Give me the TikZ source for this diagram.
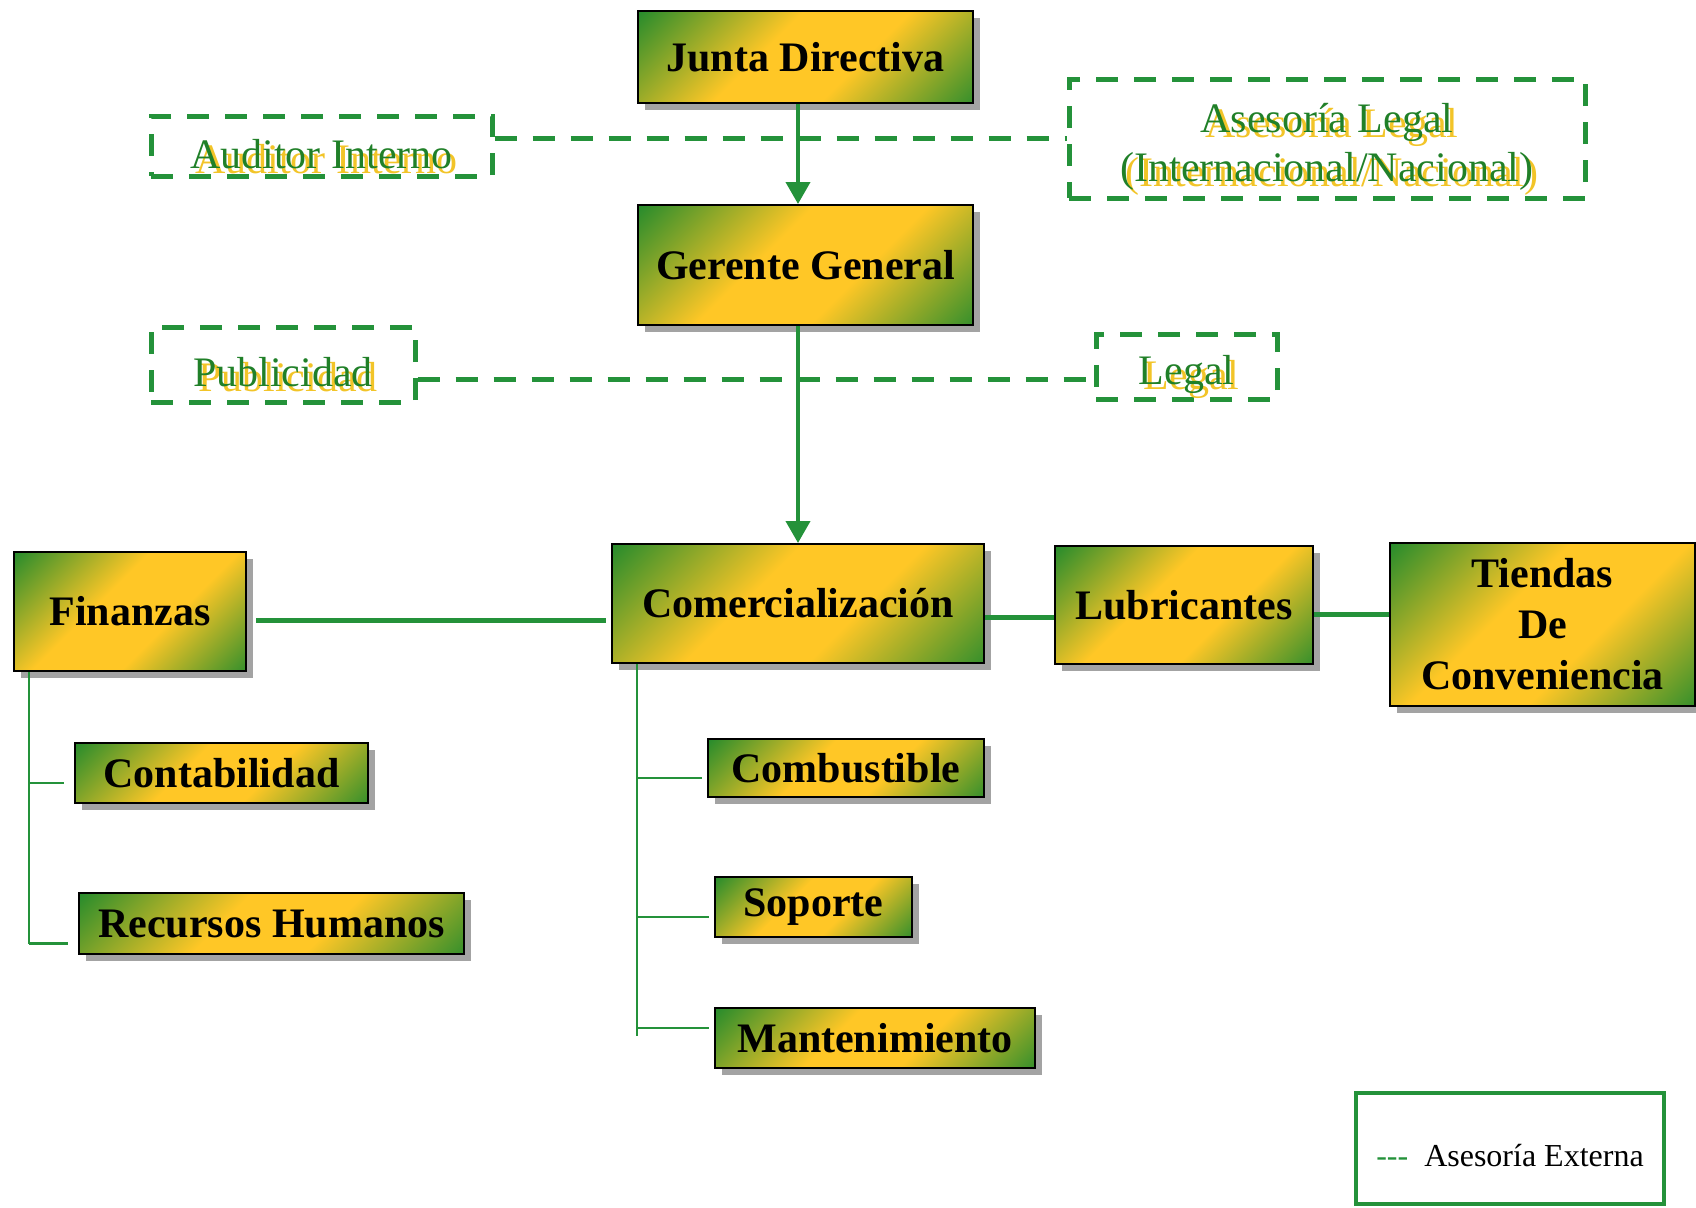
\documentclass[tikz,border=0pt]{standalone}
\usepackage{fontspec}
\setmainfont{Liberation Serif}
\usetikzlibrary{arrows.meta,shadows,calc}

\definecolor{bgreen}{RGB}{34,138,44}
\definecolor{bgold}{RGB}{255,199,38}
\definecolor{lgreen}{RGB}{36,146,58}
\definecolor{tgreen}{RGB}{32,128,40}
\definecolor{sgold}{RGB}{242,196,40}

\pgfdeclarehorizontalshading{boxgrad}{100bp}{color(0bp)=(bgreen); color(14bp)=(bgreen); color(42bp)=(bgold); color(60bp)=(bgold); color(88bp)=(bgreen); color(100bp)=(bgreen)}

\newcommand{\twotone}[1]{\leavevmode\rlap{\kern2.5pt\raisebox{-2.5pt}{\color{sgold}#1}}{\color{tgreen}#1}}
\newcommand{\lowstrut}{\rule{0pt}{25pt}}

\tikzset{
  unitbox/.style={draw=black, line width=1pt, shading=boxgrad, shading angle=-45,
    inner sep=0pt, align=center, font=\bfseries\fontsize{21}{25.5}\selectfont,
    drop shadow={shadow xshift=3.5pt, shadow yshift=-3.5pt, fill=black!45, opacity=.8}},
  advisor/.style={draw=lgreen, line width=2.5pt, dash pattern=on 11pt off 8pt,
    inner sep=0pt, align=center, font=\fontsize{21}{24.5}\selectfont},
  flow/.style={draw=lgreen, line width=2pt, -{Triangle[width=12pt,length=11pt]}},
  hlink/.style={draw=lgreen, line width=2.5pt},
  branch/.style={draw=lgreen, line width=1.2pt},
  dashlink/.style={draw=lgreen, line width=2.5pt, dash pattern=on 11pt off 8pt},
  legendbox/.style={draw=lgreen, line width=2pt, inner sep=0pt,
    font=\fontsize{16}{19}\selectfont}
}

\begin{document}
\begin{tikzpicture}[x=0.5pt, y=-0.5pt]
\useasboundingbox (0,0) rectangle (1696,1207);

% top of the chart
\node[unitbox, minimum width=167.5pt, minimum height=46pt] (junta) at (805.5,57) {Junta Directiva};
\node[unitbox, minimum width=167.5pt, minimum height=60pt] (gerente) at (805.5,265) {Gerente General};
\node[advisor, minimum width=170.5pt, minimum height=30pt] (auditor) at (321.5,146) {\lowstrut\twotone{Auditor Interno}};
\node[advisor, minimum width=258pt, minimum height=59.5pt] (asesoria) at (1327,138.5) {\lowstrut\twotone{Asesoría Legal}\\\twotone{(Internacional/Nacional)}};
\node[advisor, minimum width=132pt, minimum height=37.5pt] (publicidad) at (283,364.5) {\lowstrut\twotone{Publicidad}};
\node[advisor, minimum width=90.5pt, minimum height=30pt] (legal) at (1186.5,367) {\lowstrut\twotone{Legal}};

% main row
\node[unitbox, minimum width=186pt, minimum height=59.5pt] (comercial) at (798,603.5) {Comercialización};
\node[unitbox, minimum width=116pt, minimum height=59.5pt] (finanzas) at (130,611.5) {Finanzas};
\node[unitbox, minimum width=129pt, minimum height=59pt] (lubric) at (1184,605) {Lubricantes};
\node[unitbox, minimum width=152.5pt, minimum height=81.5pt] (tiendas) at (1542.5,624.5) {Tiendas\\De\\Conveniencia};

% sub units
\node[unitbox, minimum width=146.5pt, minimum height=30pt] (contab) at (221.5,773) {Contabilidad};
\node[unitbox, minimum width=192.5pt, minimum height=30.5pt] (recursos) at (271.5,923.5) {Recursos Humanos};
\node[unitbox, minimum width=138pt, minimum height=29pt] (combus) at (846,768) {Combustible};
\node[unitbox, minimum width=98.5pt, minimum height=30pt] (soporte) at (813.5,907) {Soporte};
\node[unitbox, minimum width=160pt, minimum height=30pt] (mant) at (875,1038) {Mantenimiento};

% legend
\node[legendbox, minimum width=154pt, minimum height=55.5pt] (legend) at (1510,1148) {\rule{0pt}{18.5pt}{\color{lgreen}-{}-{}-}\hspace{8pt}Asesoría Externa};

% external advice lines
\draw[dashlink] (auditor.east |- asesoria.west) -- (asesoria.west);
\coordinate (rowB) at (0,379);
\draw[dashlink] (publicidad.east |- rowB) -- (legal.west |- rowB);

% arrows
\draw[flow] (junta.south -| comercial.north) -- (gerente.north -| comercial.north);
\draw[flow] (gerente.south -| comercial.north) -- (comercial.north);

% main row links
\coordinate (rowA) at (0,620);
\draw[hlink, shorten <=4.5pt, shorten >=2.5pt] (finanzas.east |- rowA) -- (comercial.west |- rowA);
\coordinate (rowC) at (0,617);
\draw[hlink] (comercial.east |- rowC) -- (lubric.west |- rowC);
\coordinate (rowD) at (0,614);
\draw[hlink] (lubric.east |- rowD) -- (tiendas.west |- rowD);

% branches
\path ($(finanzas.south west)+(16,0)$) coordinate (ftop);
\draw[branch] (ftop) -- ++(0,272);
\foreach \n/\d in {contab/10, recursos/20} {
  \path ($(\n.west)+(0,\d)$) coordinate (tk);
  \draw[branch, shorten >=5pt] (tk -| ftop) -- (tk);
}
\path ($(comercial.south west)+(26,0)$) coordinate (ctop);
\draw[branch] (ctop) -- ++(0,372);
\foreach \n/\d in {combus/10, soporte/10, mant/-10} {
  \path ($(\n.west)+(0,\d)$) coordinate (tk);
  \draw[branch, shorten >=2.5pt] (tk -| ctop) -- (tk);
}
\end{tikzpicture}
\end{document}
